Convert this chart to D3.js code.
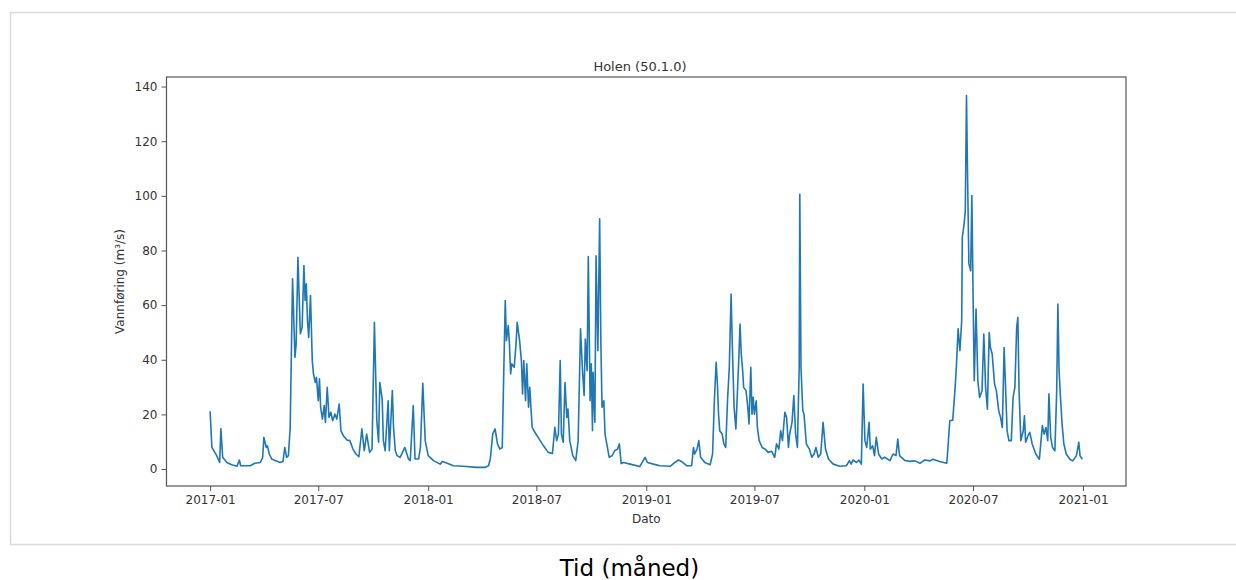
<!DOCTYPE html>
<html>
<head>
<meta charset="utf-8">
<script src="https://cdn.jsdelivr.net/npm/d3@7"></script>
<style>
  html, body { margin: 0; padding: 0; background: #fff; }
  svg { display: block; }
  text { font-family: "DejaVu Sans", sans-serif; }
</style>
</head>
<body>
<svg id="chart" width="1236" height="580"></svg>
<script>
// Daily discharge at Holen (50.1.0), days counted from 2017-01-01
const startDate = "2017-01-01";
const days = [
  0,3,11,16,18,21,28,36,45,49,51,67,75,84,88,90,94,96,99,103,109,117,122,125,128,131,134,
  138,142,144,147,151,154,157,159,161,163,165,168,171,173,176,178,181,183,185,188,191,193,
  196,199,202,205,209,212,216,219,223,229,234,239,244,249,254,258,262,267,271,275,279,282,
  284,288,290,293,298,300,305,307,310,313,318,326,332,
  335,340,343,349,352,356,360,365,374,385,389,396,407,424,446,460,466,469,473,477,481,485,
  489,491,494,496,499,501,503,505,509,512,514,518,521,523,525,528,530,533,535,539,542,549,
  558,566,573,577,580,583,586,588,591,594,597,599,602,607,612,616,620,623,626,628,631,633,
  636,638,640,641,644,646,649,652,654,656,659,661,665,668,673,677,682,685,688,692,703,719,
  728,732,742,753,
  770,778,784,789,798,806,809,811,815,818,821,828,837,841,844,847,849,851,853,857,860,863,
  866,869,872,874,877,880,882,885,887,889,891,893,897,900,902,905,907,909,911,914,916,919,
  924,929,934,940,945,948,952,955,958,962,965,968,970,974,977,980,983,986,987,989,992,994,
  998,1003,1007,1011,1014,1018,1022,1026,1030,1035,1043,1054,1065,1070,1073,1076,1082,1086,
  1090,1093,1096,1099,1103,1105,1109,1112,1115,1119,1124,1129,1138,1143,1148,1151,1154,1163,
  1171,
  1180,1188,1196,1205,1210,1221,1233,1235,1238,1243,1247,1249,1252,1255,1258,1259,1262,1264,
  1266,1268,1270,1273,1275,1277,1279,1282,1285,1288,1292,1295,1298,1301,1304,1306,1309,1313,
  1316,1320,1323,1326,1329,1332,1334,1337,1341,1344,1347,1350,1352,1354,1357,1361,1363,1365,
  1369,1372,1376,1382,1388,1390,1393,1396,1399,1402,1404,1407,1410,1414,1417,1419,1421,1423,
  1426,1429,1433,1439,1444,1450,1454,1456,1460
];
const flow = [
  21.1,7.9,4.9,2.4,14.7,4.3,2.4,1.6,1.0,3.3,1.2,1.2,2.1,2.4,4.3,11.6,7.9,8.5,5.5,3.7,3.1,2.4,2.8,7.9,4.3,4.9,15.0,
  69.6,40.9,45.8,77.5,49.5,51.9,74.5,61.7,67.8,54.3,48.2,63.5,39.7,34.8,31.7,33.6,25.0,33.0,22.6,18.3,23.2,17.1,
  29.9,18.9,20.8,17.7,20.1,18.3,23.8,14.0,12.2,10.6,10.4,7.3,5.5,4.5,14.7,6.7,12.8,6.1,7.3,53.7,17.7,9.8,
  31.7,25.6,10.4,6.7,25.0,6.7,28.7,15.3,6.7,4.9,4.3,7.9,3.7,
  3.1,23.2,3.7,3.7,7.9,31.4,10.4,4.9,3.1,1.8,2.8,2.2,1.2,1.0,0.6,0.6,1.2,3.7,12.8,14.7,9.2,7.3,
  7.9,29.9,61.7,47.0,52.5,45.8,34.8,38.5,37.2,45.8,53.7,47.0,39.7,27.5,39.7,25.0,38.5,22.6,29.9,15.3,14.0,11.6,
  8.5,6.1,5.7,15.3,10.4,12.8,39.7,12.8,9.8,31.7,18.9,22.0,10.4,4.9,3.1,10.4,51.3,37.2,26.9,47.6,36.0,77.8,
  25.0,38.5,14.0,35.4,17.1,78.1,43.3,91.6,47.0,22.6,25.0,12.8,7.9,4.3,4.9,6.7,7.3,9.2,2.0,2.4,1.8,0.9,
  4.3,2.4,1.8,1.2,
  1.0,2.4,3.3,2.8,1.2,1.2,7.9,5.5,7.3,10.4,4.3,2.4,1.6,5.5,25.0,39.1,31.7,20.1,14.0,12.8,9.2,7.9,
  25.0,37.2,64.1,45.8,22.6,14.7,25.0,40.9,53.1,42.1,37.2,29.9,28.7,22.6,16.5,37.2,20.1,26.3,20.1,25.0,15.3,10.4,
  7.9,7.3,6.1,6.5,4.3,9.2,7.3,14.0,10.4,20.8,18.9,7.9,12.8,17.1,26.9,12.8,7.9,37.2,100.6,37.2,21.4,20.1,
  9.2,7.3,4.3,5.5,7.9,4.3,5.5,17.1,7.3,3.7,1.8,1.0,1.2,3.1,1.8,3.3,2.4,3.3,
  1.8,31.1,10.4,7.9,17.1,7.3,8.5,4.9,11.6,5.5,3.7,4.3,3.1,5.5,4.9,11.0,4.9,3.1,
  2.8,
  3.0,2.1,3.3,3.0,3.6,2.8,2.1,7.9,17.7,17.9,29.9,37.2,51.3,43.3,54.3,84.8,89.7,94.6,
  136.7,104.4,75.1,72.6,100.1,64.1,32.3,58.6,32.3,26.2,28.7,49.4,29.9,21.9,50.0,44.5,42.1,31.1,
  28.7,21.3,18.9,15.2,44.5,26.2,14.0,10.4,10.4,26.2,29.9,51.9,55.5,28.7,10.4,14.0,19.5,9.8,
  12.2,13.4,9.2,5.5,3.6,8.5,15.9,12.8,15.2,10.4,27.5,11.6,7.9,6.7,28.7,60.4,36.0,27.5,
  16.5,9.2,5.5,3.6,3.0,4.9,9.8,4.9,3.6
];
const yTicks = [0, 20, 40, 60, 80, 100, 120, 140];
const xTickLabels = ["2017-01","2017-07","2018-01","2018-07","2019-01","2019-07","2020-01","2020-07","2021-01"];
const titleText = "Holen (50.1.0)";
const xLabelText = "Dato";
const yLabelText = "Vannføring (m³/s)";
const captionText = "Tid (måned)";

const t0 = d3.utcParse("%Y-%m-%d")(startDate);
const series = days.map((d, i) => ({ date: d3.utcDay.offset(t0, d), value: flow[i] }));

const svg = d3.select("#chart");

// outer frame
svg.append("rect")
  .attr("x", 10.5).attr("y", 12.5)
  .attr("width", 1240).attr("height", 532)
  .attr("fill", "none")
  .attr("stroke", "#d9d9d9")
  .attr("stroke-width", 1.5);

const plot = { left: 166.5, right: 1126, top: 77, bottom: 486 };

// matplotlib-style 5% margins around the data extent
const [dMin, dMax] = d3.extent(series, d => d.date);
const padT = (dMax - dMin) * 0.05;
const x = d3.scaleUtc()
  .domain([new Date(+dMin - padT), new Date(+dMax + padT)])
  .range([plot.left, plot.right]);

const [vMin, vMax] = d3.extent(series, d => d.value);
const padV = (vMax - vMin) * 0.05;
const y = d3.scaleLinear()
  .domain([vMin - padV, vMax + padV])
  .range([plot.bottom, plot.top]);

const textColor = "#333";
const axisColor = "#555";

// x axis
const xTickDates = xTickLabels.map(s => d3.utcParse("%Y-%m")(s));
const xAxis = d3.axisBottom(x)
  .tickValues(xTickDates)
  .tickFormat(d3.utcFormat("%Y-%m"))
  .tickSize(5)
  .tickPadding(4);
const gx = svg.append("g")
  .attr("transform", `translate(0,${plot.bottom})`)
  .call(xAxis);
gx.select(".domain").remove();
gx.selectAll(".tick line").attr("stroke", axisColor);
gx.selectAll(".tick text")
  .attr("fill", textColor)
  .style("font-family", "DejaVu Sans, sans-serif")
  .style("font-size", "12px");

// y axis
const yAxis = d3.axisLeft(y)
  .tickValues(yTicks)
  .tickSize(5)
  .tickPadding(4);
const gy = svg.append("g")
  .attr("transform", `translate(${plot.left},0)`)
  .call(yAxis);
gy.select(".domain").remove();
gy.selectAll(".tick line").attr("stroke", axisColor);
gy.selectAll(".tick text")
  .attr("fill", textColor)
  .style("font-family", "DejaVu Sans, sans-serif")
  .style("font-size", "12px");

// discharge line
const line = d3.line()
  .x(d => x(d.date))
  .y(d => y(d.value));
svg.append("path")
  .datum(series)
  .attr("fill", "none")
  .attr("stroke", "#1f77b4")
  .attr("stroke-width", 1.6)
  .attr("stroke-linejoin", "round")
  .attr("d", line);

// axes box
svg.append("rect")
  .attr("x", plot.left).attr("y", plot.top)
  .attr("width", plot.right - plot.left)
  .attr("height", plot.bottom - plot.top)
  .attr("fill", "none")
  .attr("stroke", axisColor)
  .attr("stroke-width", 1.2);

// title and axis labels
svg.append("text")
  .attr("x", 640).attr("y", 71)
  .attr("text-anchor", "middle")
  .attr("fill", textColor)
  .style("font-size", "13px")
  .text(titleText);

svg.append("text")
  .attr("x", (plot.left + plot.right) / 2).attr("y", 523)
  .attr("text-anchor", "middle")
  .attr("fill", textColor)
  .style("font-size", "12px")
  .text(xLabelText);

svg.append("text")
  .attr("transform", `translate(124,${(plot.top + plot.bottom) / 2}) rotate(-90)`)
  .attr("text-anchor", "middle")
  .attr("fill", textColor)
  .style("font-size", "12px")
  .text(yLabelText);

// caption below the frame
svg.append("text")
  .attr("x", 629.5).attr("y", 576)
  .attr("text-anchor", "middle")
  .attr("fill", "#000")
  .style("font-size", "23px")
  .text(captionText);
</script>
</body>
</html>
